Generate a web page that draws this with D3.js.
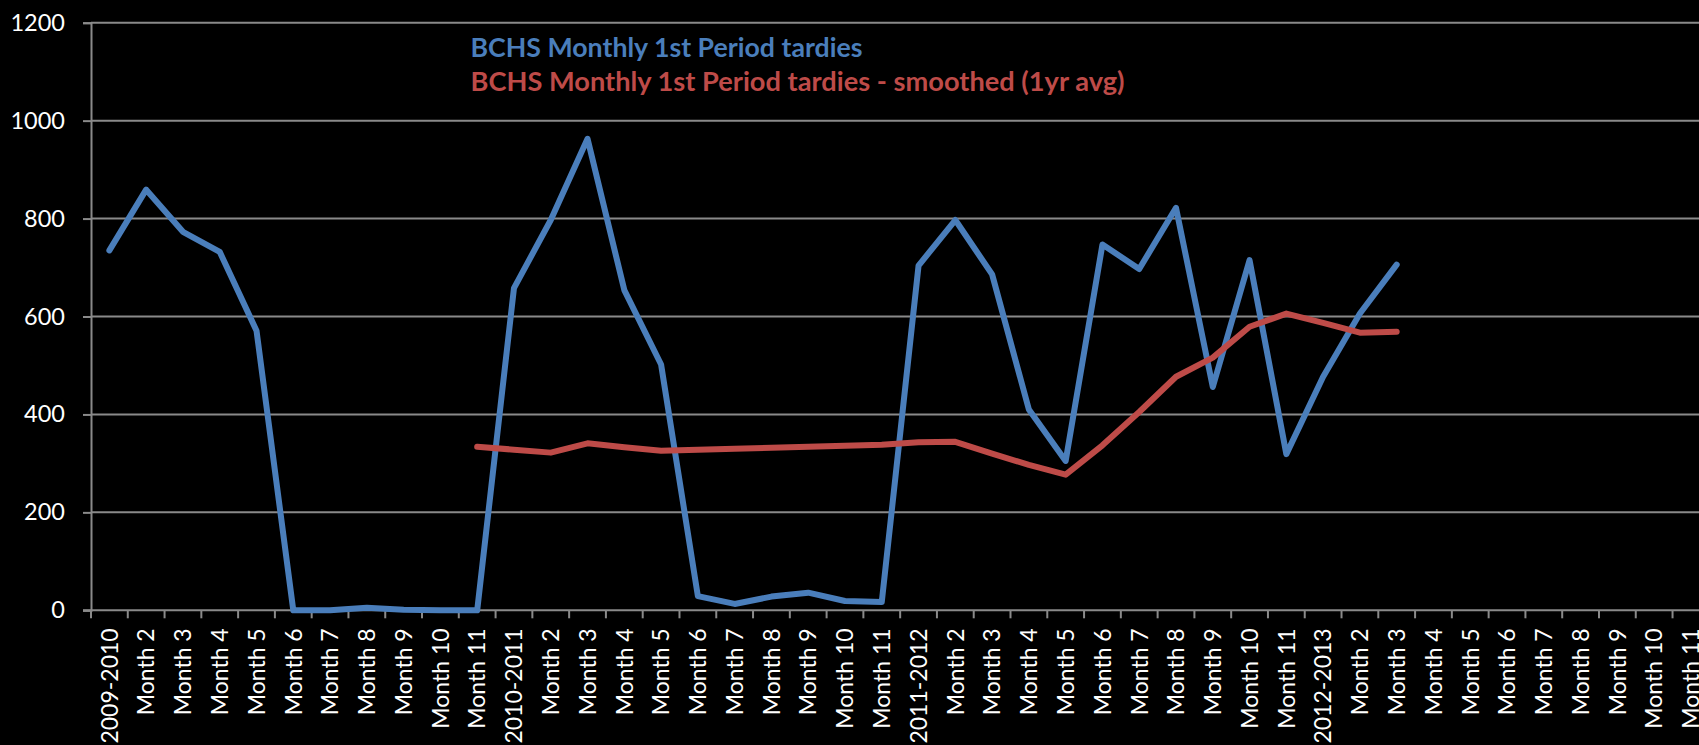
<!DOCTYPE html>
<html>
<head>
<meta charset="utf-8">
<script src="https://cdn.jsdelivr.net/npm/d3@7"></script>
<style>
  html, body { margin: 0; padding: 0; background: #000; overflow: hidden; }
  svg { display: block; }
</style>
</head>
<body>
<svg id="chart" width="1699" height="745"></svg>
<script>
// ---- data ----
const categories = [
  "2009-2010","Month 2","Month 3","Month 4","Month 5","Month 6","Month 7","Month 8","Month 9","Month 10","Month 11",
  "2010-2011","Month 2","Month 3","Month 4","Month 5","Month 6","Month 7","Month 8","Month 9","Month 10","Month 11",
  "2011-2012","Month 2","Month 3","Month 4","Month 5","Month 6","Month 7","Month 8","Month 9","Month 10","Month 11",
  "2012-2013","Month 2","Month 3","Month 4","Month 5","Month 6","Month 7","Month 8","Month 9","Month 10","Month 11"
];
const tardies = [
  735, 859, 773, 732, 571, 0, 0, 5, 1, 0, 0,
  658, 797, 963, 654, 502, 29, 13, 28, 36, 19, 17,
  704, 797, 686, 410, 305, 747, 697, 822, 456, 715, 319,
  477, 606, 706
];
const smoothed = [
  null, null, null, null, null, null, null, null, null, null, 334,
  328, 322, 341, 333, 326, 328, 330, 332, 334, 336, 338,
  343, 344, 320, 297, 277, 337, 405, 477, 516, 579, 606,
  587, 567, 569
];
const yTicks = [0, 200, 400, 600, 800, 1000, 1200];
const seriesNames = [
  "BCHS Monthly 1st Period tardies",
  "BCHS Monthly 1st Period tardies - smoothed (1yr avg)"
];
const colors = ["#4a7ebb", "#be4b48"];

// ---- layout ----
const svg = d3.select("#chart");
const W = 1699, H = 745;
svg.append("rect").attr("width", W).attr("height", H).attr("fill", "#000");

const plotLeft = 91, plotTop = 22.7, plotBottom = 610.3;
const band = 36.78;
const plotRight = plotLeft + band * categories.length;
const keys = categories.map((c, i) => i);
const x = d3.scaleBand().domain(keys).range([plotLeft, plotRight]).padding(0);
const y = d3.scaleLinear().domain([0, 1200]).range([plotBottom, plotTop]);

const gridColor = "#8a8a8a";
const font = "Lato, 'Open Sans', sans-serif";

// gridlines
svg.append("g").selectAll("line").data(yTicks.filter(t => t > 0)).join("line")
  .attr("x1", plotLeft).attr("x2", plotRight)
  .attr("y1", d => y(d)).attr("y2", d => y(d))
  .attr("stroke", gridColor).attr("stroke-width", 2);

// y axis
const yAxis = svg.append("g").attr("transform", `translate(${plotLeft},0)`)
  .call(d3.axisLeft(y).tickValues(yTicks).tickSize(8).tickPadding(18).tickFormat(d3.format("d")));
yAxis.select(".domain").attr("stroke", gridColor).attr("stroke-width", 2);
yAxis.selectAll(".tick line").attr("stroke", gridColor).attr("stroke-width", 2);
yAxis.selectAll(".tick text").attr("fill", "#fff").attr("font-family", font).attr("font-size", 23.5);

// x axis
const xAxis = svg.append("g").attr("transform", `translate(0,${plotBottom})`)
  .call(d3.axisBottom(x).tickSize(0).tickFormat(i => categories[i]));
xAxis.select(".domain").attr("stroke", gridColor).attr("stroke-width", 2)
  .attr("d", `M${plotLeft - 8},0H${plotRight}`);
xAxis.selectAll(".tick text")
  .attr("fill", "#fff").attr("font-family", font).attr("font-size", 23)
  .attr("transform", "rotate(-90)")
  .attr("text-anchor", "end")
  .attr("x", -18).attr("y", 0).attr("dy", "0.36em");
// tick marks at band boundaries
svg.append("g").selectAll("line").data(d3.range(categories.length + 1)).join("line")
  .attr("x1", i => plotLeft + band * i).attr("x2", i => plotLeft + band * i)
  .attr("y1", plotBottom).attr("y2", plotBottom + 8)
  .attr("stroke", gridColor).attr("stroke-width", 2);

// lines
const cx = i => x(i) + x.bandwidth() / 2;
const line = d3.line().defined(d => d != null).x((d, i) => cx(i)).y(d => y(d));
[tardies, smoothed].forEach((data, k) => {
  svg.append("path")
    .datum(data)
    .attr("fill", "none")
    .attr("stroke", colors[k])
    .attr("stroke-width", 6)
    .attr("stroke-linejoin", "round")
    .attr("stroke-linecap", "round")
    .attr("d", line);
});

// legend
const legendWidths = [392, 654];
seriesNames.forEach((name, k) => {
  svg.append("text")
    .attr("x", 470.5).attr("y", k === 0 ? 56.7 : 91)
    .attr("fill", colors[k])
    .attr("font-family", font).attr("font-weight", "bold").attr("font-size", 27.5)
    .attr("textLength", legendWidths[k]).attr("lengthAdjust", "spacingAndGlyphs")
    .text(name);
});
</script>
</body>
</html>
